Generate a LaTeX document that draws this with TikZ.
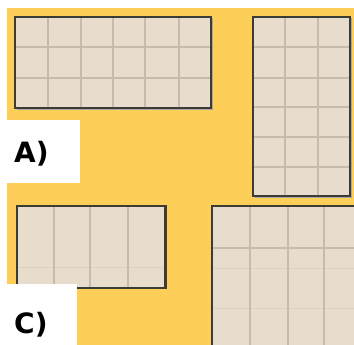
\documentclass[tikz,border=0pt]{standalone}
\usepackage{fontspec}
\setmainfont{DejaVu Sans}
\definecolor{bgyellow}{HTML}{FDCE58}
\definecolor{tile}{HTML}{E8DDCC}
\definecolor{gridc}{HTML}{C6BBAE}
\definecolor{gridf}{HTML}{DDD2C2}
\definecolor{edgec}{HTML}{3C3C36}
\tikzset{
  tilebox/.style={fill=tile},
  gridline/.style={draw=gridc, line width=1.2pt},
  faintline/.style={draw=gridf, line width=0.8pt},
  rimline/.style={draw=edgec, line width=2.2pt},
  shadowline/.style={draw=edgec!45, line width=1.2pt},
  labelbox/.style={fill=white},
  labeltext/.style={font=\fontsize{28}{28}\selectfont\bfseries, inner sep=0pt, anchor=base west}
}
\begin{document}
\begin{tikzpicture}[x=1pt,y=-1pt]
\useasboundingbox (0,0) rectangle (354,345);
\fill[white] (0,0) rectangle (354,345);
\fill[bgyellow] (7,8) rectangle (354,345);
% Rectangle A (6x3)
\fill[tilebox] (15,17) rectangle (211,108);
\foreach \x in {48,81,113,145,179} \draw[gridline] (\x,17) -- (\x,108);
\foreach \y in {47,78} \draw[gridline] (15,\y) -- (211,\y);
\draw[shadowline] (16.5,109.5) -- (212.5,109.5) -- (212.5,18.5);
\draw[rimline] (15,17) rectangle (211,108);
% Rectangle B (3x6)
\fill[tilebox] (253,17) rectangle (350,196);
\foreach \x in {285,318} \draw[gridline] (\x,17) -- (\x,196);
\foreach \y in {47,78,107,137,167} \draw[gridline] (253,\y) -- (350,\y);
\draw[shadowline] (254.5,197.5) -- (351.5,197.5) -- (351.5,18.5);
\draw[rimline] (253,17) rectangle (350,196);
% Rectangle C (4 columns)
\fill[tilebox] (17,206) rectangle (166,288);
\draw[faintline] (17,267) -- (166,267);
\foreach \x in {54,90,128} \draw[gridline] (\x,206) -- (\x,288);
\draw[rimline] (17,206) rectangle (166,288);
\draw[draw=edgec, line width=3pt] (165,206) -- (165,288);
% Rectangle D (partial)
\fill[tilebox] (212,206) rectangle (360,350);
\foreach \y in {268,308} \draw[faintline] (212,\y) -- (354,\y);
\draw[gridline] (212,248) -- (354,248);
\foreach \x in {250,288,324} \draw[gridline] (\x,206) -- (\x,345);
\draw[rimline] (360,206) -- (212,206) -- (212,350);
% Labels
\fill[labelbox] (0,120) rectangle (80,183);
\node[labeltext] (labA) at (14,163) {A)};
\fill[labelbox] (0,284) rectangle (77,345);
\node[labeltext] (labC) at (14,333) {C)};
\end{tikzpicture}
\end{document}
